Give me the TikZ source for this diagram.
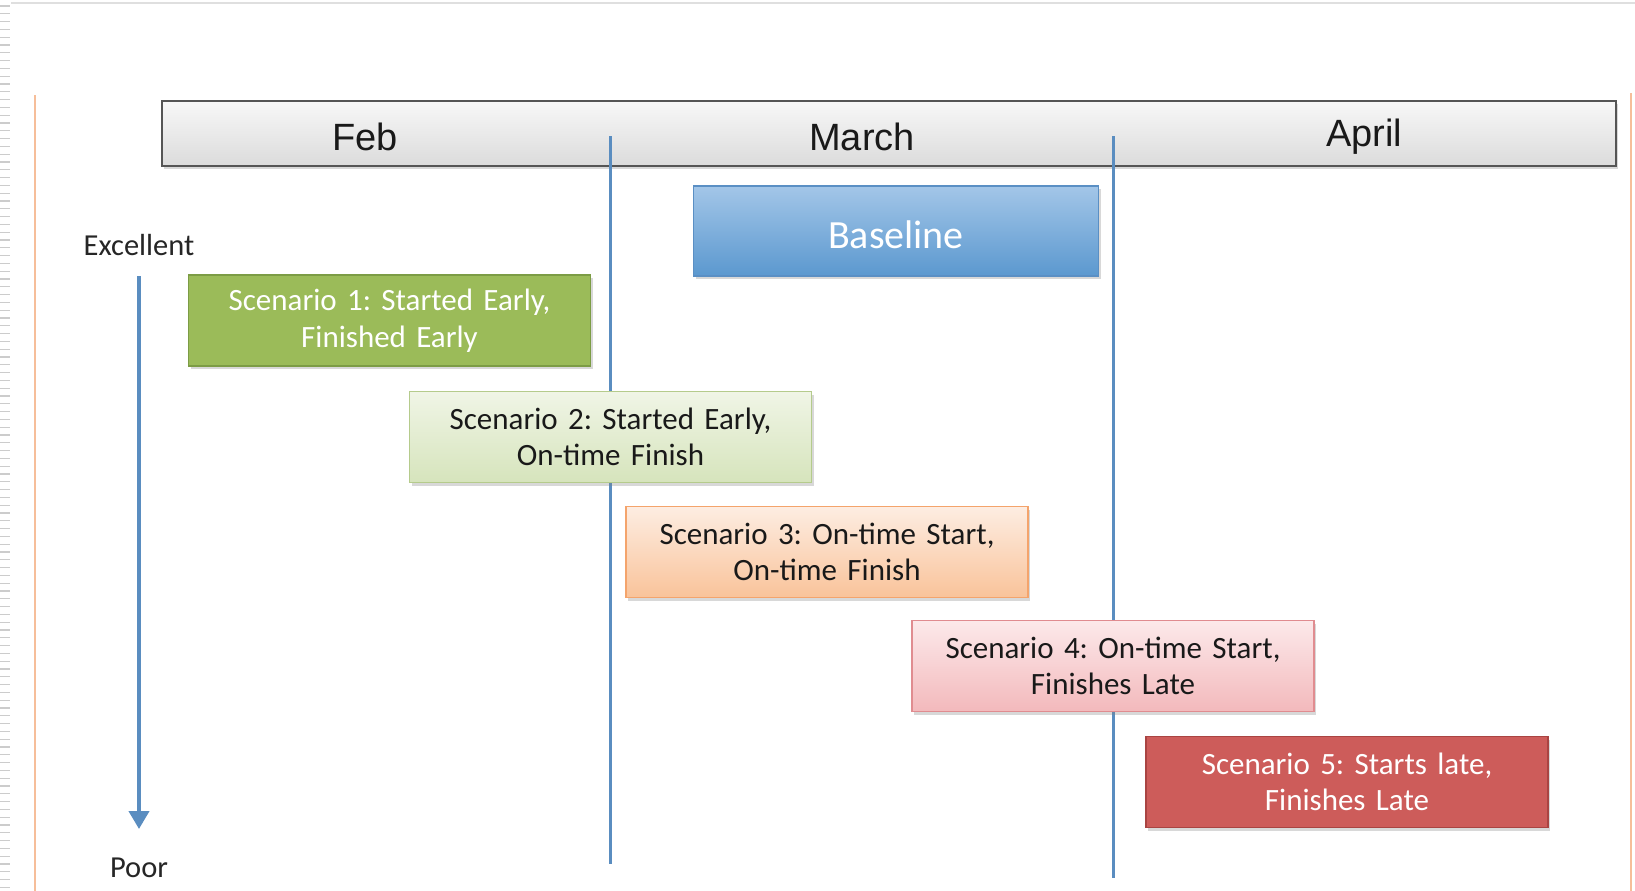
\documentclass[tikz,border=0pt]{standalone}
\usepackage{fontspec}
\setmainfont{Carlito}
\newfontfamily\arialf{Liberation Sans}
\usetikzlibrary{shadows,arrows.meta}
\frenchspacing
\definecolor{barline}{HTML}{555555}
\definecolor{divblue}{HTML}{5A8DC0}
\definecolor{edgeor}{HTML}{F6BE9A}
\definecolor{blTop}{HTML}{A3C6E8}
\definecolor{blBot}{HTML}{5B98CF}
\definecolor{blEdge}{HTML}{5A8FC4}
\definecolor{gA}{HTML}{9BBB59}
\definecolor{gAedge}{HTML}{7C9C45}
\definecolor{gBtop}{HTML}{F0F5E6}
\definecolor{gBbot}{HTML}{D6E4BC}
\definecolor{gBedge}{HTML}{B5CB8C}
\definecolor{oTop}{HTML}{FDEDE2}
\definecolor{oBot}{HTML}{F9C39A}
\definecolor{oEdge}{HTML}{F4A46C}
\definecolor{pTop}{HTML}{FCE9EA}
\definecolor{pBot}{HTML}{F3B9BC}
\definecolor{pEdge}{HTML}{E08C90}
\definecolor{rFill}{HTML}{CD5C5A}
\definecolor{rEdge}{HTML}{A94442}
\begin{document}
\begin{tikzpicture}[x=1pt,y=-1pt,
  box/.style={rectangle, draw, line width=1.3pt, minimum width=402pt, minimum height=91pt,
    text width=395pt, align=center, inner sep=0pt,
    font=\fontsize{31}{36.5}\selectfont,
    drop shadow={opacity=0.3, shadow xshift=2pt, shadow yshift=-3pt}},
  monthbar/.style={rectangle, draw=barline, line width=2pt, top color=gray!6, bottom color=gray!28,
    minimum width=1454pt, minimum height=65pt, inner sep=0pt,
    drop shadow={opacity=0.3, shadow xshift=2pt, shadow yshift=-3pt}},
  month/.style={font=\arialf\fontsize{38}{42}\selectfont, text=black!90, inner sep=0pt},
  axislabel/.style={font=\fontsize{30.5}{34}\selectfont, text=black!85, inner sep=0pt},
  divider/.style={draw=divblue, line width=3pt},
  axisarrow/.style={draw=divblue, line width=4pt, -{Triangle[length=18pt,width=20pt]}},
  stripe/.style={draw=gray!40, line width=1.3pt},
  frameline/.style={draw=edgeor, line width=2.5pt}
]
\useasboundingbox (0,0) rectangle (1635,891);
\fill[white] (0,0) rectangle (1635,891);

% slide-frame remnants
\draw[draw=gray!25, line width=1.2pt] (11,3) -- (1635,3);
\foreach \yy in {6,13.8,...,891} \draw[stripe] (0,\yy) -- (10,\yy);
\draw[frameline] (35,95) -- (35,891);
\draw[frameline] (1631,93) -- (1631,891);

% month bar
\node[monthbar] (bar) at (889,133.5) {};
\node[month] (feb) at (365,137) {Feb};
\node[month] (mar) at (862,137) {March};
\node[month] (apr) at (1364,137) {April};

% dividers
\coordinate (d1top) at (610,136);
\coordinate (d1bot) at (610,864);
\coordinate (d2top) at (1113,136);
\coordinate (d2bot) at (1113,878);
\draw[divider] (d1top) -- (d1bot);
\draw[divider] (d2top) -- (d2bot);

% axis
\node[axislabel] (exc) at (139,245) {Excellent};
\node[axislabel] (poor) at (139,868) {Poor};
\coordinate (atop) at (139,276);
\coordinate (abot) at (139,829);
\draw[axisarrow] (atop) -- (abot);

% boxes
\node[box, draw=blEdge, top color=blTop, bottom color=blBot, minimum width=405pt, minimum height=90pt,
  text height=34pt, text depth=0pt,
  text=white, font=\fontsize{40}{44}\selectfont] (base) at (896,231) {Baseline};
\node[box, draw=gAedge, fill=gA, text=white] (s1) at (389.5,320.5) {Scenario 1: Started Early,\\Finished Early};
\node[box, draw=gBedge, top color=gBtop, bottom color=gBbot, text=black!90] (s2) at (610.5,437) {Scenario 2: Started Early,\\On-time Finish};
\node[box, draw=oEdge, top color=oTop, bottom color=oBot, text=black!90] (s3) at (827,552) {Scenario 3: On-time Start,\\On-time Finish};
\node[box, draw=pEdge, top color=pTop, bottom color=pBot, text=black!90] (s4) at (1113,666) {Scenario 4: On-time Start,\\Finishes Late};
\node[box, draw=rEdge, fill=rFill, text=white] (s5) at (1347,782) {Scenario 5: Starts late,\\Finishes Late};
\end{tikzpicture}
\end{document}
